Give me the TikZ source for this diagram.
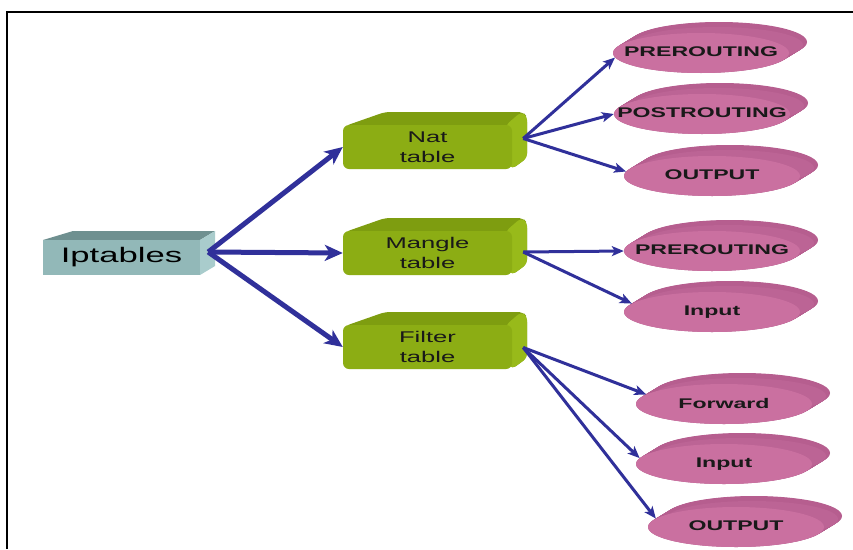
\documentclass[tikz,border=0pt]{standalone}
\usepackage{fontspec}
\setmainfont{Liberation Sans}
\newfontfamily\widefont[FakeStretch=1.65]{Liberation Sans}
\usetikzlibrary{shapes.geometric,arrows.meta,calc}

\definecolor{arrowblue}{HTML}{30309A}
\definecolor{tealfront}{HTML}{92B8B8}
\definecolor{tealtop}{HTML}{6F9090}
\definecolor{tealside}{HTML}{A9CCCC}
\definecolor{greenfront}{HTML}{8CAD14}
\definecolor{greentop}{HTML}{7E9D10}
\definecolor{greenside}{HTML}{98BA1A}
\definecolor{pinkfront}{HTML}{CA70A0}
\definecolor{pinkside}{HTML}{B65E8F}
\definecolor{pinktop}{HTML}{BC6495}

\tikzset{
  rootbox/.style={rectangle, fill=tealfront, minimum width=157pt, minimum height=35pt,
    inner sep=0pt, font=\widefont\fontsize{21}{24}\selectfont},
  tablebox/.style={rectangle, rounded corners=6pt, fill=greenfront, minimum width=169pt,
    minimum height=44pt, inner sep=0pt, align=center, text=black!90,
    font=\widefont\fontsize{15.5}{20}\selectfont},
  chainbox/.style={ellipse, fill=pinkfront, minimum width=176pt, minimum height=40pt,
    inner sep=0pt, text=black!90, font=\widefont\bfseries\fontsize{14}{16}\selectfont},
  bigarrow/.style={arrowblue, line width=5pt, -{Stealth[length=18pt,width=16pt,inset=5pt]}},
  smallarrow/.style={arrowblue, line width=3pt, -{Stealth[length=12pt,width=10pt,inset=3pt]}},
}

% green table slab: #1 name, #2 top y of the front face, #3 label
\newcommand\greenslab[3]{%
  \fill[greentop, rounded corners=5pt] (345,#2+1) -- (385,#2-13) -- (523,#2-13)
    -- (527,#2-8) -- (527,#2+33) -- (512,#2+44) -- (512,#2) -- cycle;
  \fill[greenside, rounded corners=4pt] (506,#2) -- (521,#2-13) -- (527,#2-9)
    -- (527,#2+33) -- (512,#2+44) -- (506,#2+36) -- cycle;
  \node[tablebox] (#1) at (427.5,#2+22) {#3};
}

% pink chain disc: #1 name, #2/#3 centre of the front face, #4 label
\newcommand\chaindisc[4]{%
  \foreach \t in {0,1,...,24}{%
    \fill[pinkside] ($(#2,#3)+(0.75*\t,-0.458*\t)$) ellipse [x radius=88pt, y radius=20pt];}
  \fill[pinktop] ($(#2,#3)+(16,-8)$) ellipse [x radius=86pt, y radius=18pt];
  \node[chainbox] (#1) at (#2,#3) {\raisebox{2pt}{\makebox[0pt]{#4}}};
}

\begin{document}
\begin{tikzpicture}[x=1pt, y=-1pt]
  \useasboundingbox (0,0) rectangle (853,549);
  \fill[white] (0,0) rectangle (853,549);

  % frame
  \draw[line width=2.5pt] (7,549) -- (7,12) -- (853,12);

  % root box
  \fill[tealtop] (43,240) -- (73,231) -- (215,231) -- (200,240) -- cycle;
  \fill[tealside] (200,240) -- (215,231) -- (215,266) -- (200,275) -- cycle;
  \node[rootbox] (ipt) at (121.5,257.5) {Iptables};

  % tables
  \greenslab{nat}{125}{Nat\\table}
  \greenslab{mangle}{231}{Mangle\\table}
  \greenslab{filter}{325}{Filter\\table}

  % chains
  \chaindisc{natpre}{701}{53}{PREROUTING}
  \chaindisc{natpost}{702}{114}{POSTROUTING}
  \chaindisc{natoutput}{712}{176}{OUTPUT}
  \chaindisc{manpre}{712}{251}{PREROUTING}
  \chaindisc{manin}{712}{312}{Input}
  \chaindisc{filfwd}{724}{404}{Forward}
  \chaindisc{filin}{724}{464}{Input}
  \chaindisc{filoutput}{736}{527}{OUTPUT}

  % connector origins on the box sides
  \coordinate (iptsrc) at ($(ipt.east)+(8,-5.5)$);
  \coordinate (natsrc) at ($(nat.east)+(11,-8.5)$);
  \coordinate (mansrc) at ($(mangle.east)+(11,-1)$);
  \coordinate (filsrc) at ($(filter.east)+(11,0.5)$);

  % root to tables
  \draw[bigarrow] (iptsrc) -- (nat.west);
  \draw[bigarrow] (iptsrc) -- (mangle.west);
  \draw[bigarrow] (iptsrc) -- (filter.west);

  % tables to chains
  \draw[smallarrow] (natsrc) -- (natpre.183);
  \draw[smallarrow] (natsrc) -- (natpost.west);
  \draw[smallarrow] (natsrc) -- (natoutput.177);
  \draw[smallarrow] (mansrc) -- (manpre.west);
  \draw[smallarrow] (mansrc) -- (manin.174);
  \draw[smallarrow] (filsrc) -- (filfwd.173);
  \draw[smallarrow] (filsrc) -- (filin.176);
  \draw[smallarrow] (filsrc) -- (filoutput.174);
\end{tikzpicture}
\end{document}
